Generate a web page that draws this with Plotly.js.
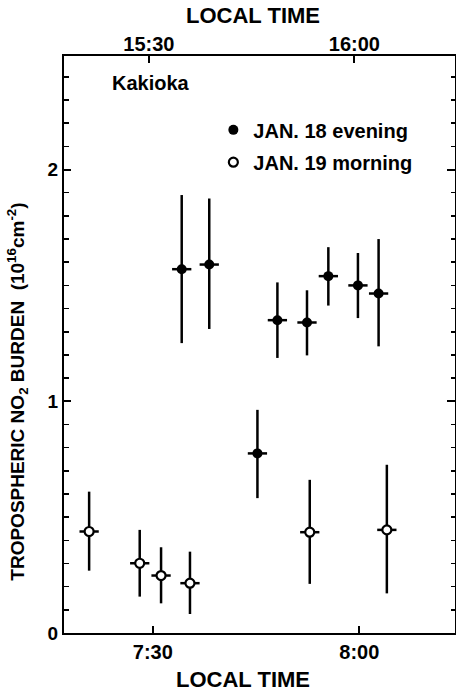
<!DOCTYPE html>
<html>
<head>
<meta charset="utf-8">
<script src="https://cdn.plot.ly/plotly-3.0.1.min.js"></script>
<style>html,body{margin:0;padding:0;background:#fff;}#chart{width:456px;height:691px;}</style>
</head>
<body>
<div id="chart"></div>
<script>
// Times in minutes after 7:00 (bottom axis)
const eveningTime  = [34.2, 38.2, 45.2, 48.1, 52.4, 55.5, 59.8, 62.8];
const eveningValue = [1.57, 1.59, 0.775, 1.35, 1.34, 1.54, 1.50, 1.465];
const eveningUpper = [1.89, 1.875, 0.963, 1.513, 1.479, 1.665, 1.64, 1.70];
const eveningLower = [1.251, 1.312, 0.582, 1.187, 1.198, 1.413, 1.359, 1.237];

const morningTime  = [20.75, 28.1, 31.2, 35.4, 52.8, 64.0];
const morningValue = [0.438, 0.301, 0.248, 0.215, 0.435, 0.445];
const morningUpper = [0.610, 0.445, 0.370, 0.351, 0.661, 0.726];
const morningLower = [0.269, 0.157, 0.128, 0.082, 0.212, 0.171];

const timeHalfWidth = 1.4; // horizontal bar half-length, minutes

const bottomTickVals = [30, 60];
const bottomTickText = ['7:30', '8:00'];
const topTickVals = [30, 60];
const topTickText = ['15:30', '16:00'];
const yTickVals = [0, 1, 2];
const yTickText = ['0', '1', '2'];

const FONT = 'Liberation Sans, Arial, sans-serif';

function diff(a, b) { return a.map((v, i) => v - b[i]); }

const traces = [
  {
    name: 'JAN. 18 evening', x: eveningTime, y: eveningValue, mode: 'markers', type: 'scatter',
    marker: {symbol: 'circle', size: 10, color: '#000'},
    error_y: {type: 'data', symmetric: false, array: diff(eveningUpper, eveningValue),
              arrayminus: diff(eveningValue, eveningLower), width: 0, thickness: 2.5, color: '#000'},
    error_x: {type: 'constant', value: timeHalfWidth, width: 0, thickness: 2.5, color: '#000'},
    legend: 'legend', hoverinfo: 'skip'
  },
  {
    name: 'JAN. 19 morning', x: morningTime, y: morningValue, mode: 'markers', type: 'scatter',
    marker: {symbol: 'circle', size: 9, color: '#fff', line: {color: '#000', width: 2.2}},
    error_y: {type: 'data', symmetric: false, array: diff(morningUpper, morningValue),
              arrayminus: diff(morningValue, morningLower), width: 0, thickness: 2.5, color: '#000'},
    error_x: {type: 'constant', value: timeHalfWidth, width: 0, thickness: 2.5, color: '#000'},
    legend: 'legend2', hoverinfo: 'skip'
  },
  {x: topTickVals, y: [null, null], xaxis: 'x2', yaxis: 'y2', mode: 'markers', showlegend: false, hoverinfo: 'skip'}
];

const textFont = {family: FONT, size: 20, color: '#000', weight: 'bold'};

const layout = {
  width: 456, height: 691,
  margin: {l: 64, r: 1, t: 56, b: 58},
  paper_bgcolor: '#fff', plot_bgcolor: '#fff',
  font: {family: FONT, color: '#000'},
  xaxis: {
    range: [17.1, 73.9], tickvals: bottomTickVals, ticktext: bottomTickText,
    ticks: 'inside', ticklen: 7, tickwidth: 2, tickcolor: '#000',
    showline: true, linewidth: 2, linecolor: '#000', mirror: true,
    showgrid: false, zeroline: false,
    tickfont: {family: FONT, size: 20, color: '#000', weight: 'bold'}
  },
  xaxis2: {
    overlaying: 'x', side: 'top', range: [17.6, 74.7], tickvals: topTickVals, ticktext: topTickText,
    ticks: 'inside', ticklen: 7, tickwidth: 2, tickcolor: '#000',
    showline: false, showgrid: false, zeroline: false,
    tickfont: {family: FONT, size: 20, color: '#000', weight: 'bold'}
  },
  yaxis: {
    range: [0, 2.49], tickvals: yTickVals, ticktext: yTickText,
    ticks: 'inside', ticklen: 7, tickwidth: 2, tickcolor: '#000',
    minor: {dtick: 0.1, ticks: 'inside', ticklen: 5, tickwidth: 1.5, tickcolor: '#000', showgrid: false},
    showline: true, linewidth: 2, linecolor: '#000', mirror: true,
    showgrid: false, zeroline: false,
    tickfont: {family: FONT, size: 19, color: '#000', weight: 'bold'}
  },
  yaxis2: {
    overlaying: 'y', side: 'right', range: [0, 2.49], tickvals: yTickVals, showticklabels: false,
    ticks: 'inside', ticklen: 8, tickwidth: 2, tickcolor: '#000',
    minor: {dtick: 0.1, ticks: 'inside', ticklen: 4, tickwidth: 1.5, tickcolor: '#000', showgrid: false},
    showline: false, showgrid: false, zeroline: false
  },
  showlegend: true,
  legend: {x: 0.382, y: 0.872, xanchor: 'left', yanchor: 'middle', bgcolor: 'rgba(0,0,0,0)',
           font: textFont, borderwidth: 0},
  legend2: {x: 0.382, y: 0.816, xanchor: 'left', yanchor: 'middle', bgcolor: 'rgba(0,0,0,0)',
            font: textFont, borderwidth: 0},
  annotations: [
    {text: 'Kakioka', xref: 'paper', yref: 'paper', x: 0.118, y: 0.954, xanchor: 'left', yanchor: 'middle',
     showarrow: false, font: textFont},
    {text: 'LOCAL TIME', xref: 'paper', yref: 'paper', x: 0.483, y: 1.071, xanchor: 'center', yanchor: 'middle',
     showarrow: false, font: {family: FONT, size: 22, color: '#000', weight: 'bold'}},
    {text: 'LOCAL TIME', xref: 'paper', yref: 'paper', x: 0.458, y: -0.0806, xanchor: 'center', yanchor: 'middle',
     showarrow: false, font: {family: FONT, size: 22, color: '#000', weight: 'bold'}},
    {text: 'TROPOSPHERIC NO<sub>2</sub> BURDEN  (10<sup>16</sup>cm<sup>-2</sup>)', xref: 'paper', yref: 'paper',
     x: -0.118, y: 0.418, xanchor: 'center', yanchor: 'middle', textangle: -90,
     showarrow: false, font: {family: FONT, size: 19, color: '#000', weight: 'bold'}}
  ]
};

Plotly.newPlot('chart', traces, layout, {displayModeBar: false, staticPlot: true});
</script>
</body>
</html>
